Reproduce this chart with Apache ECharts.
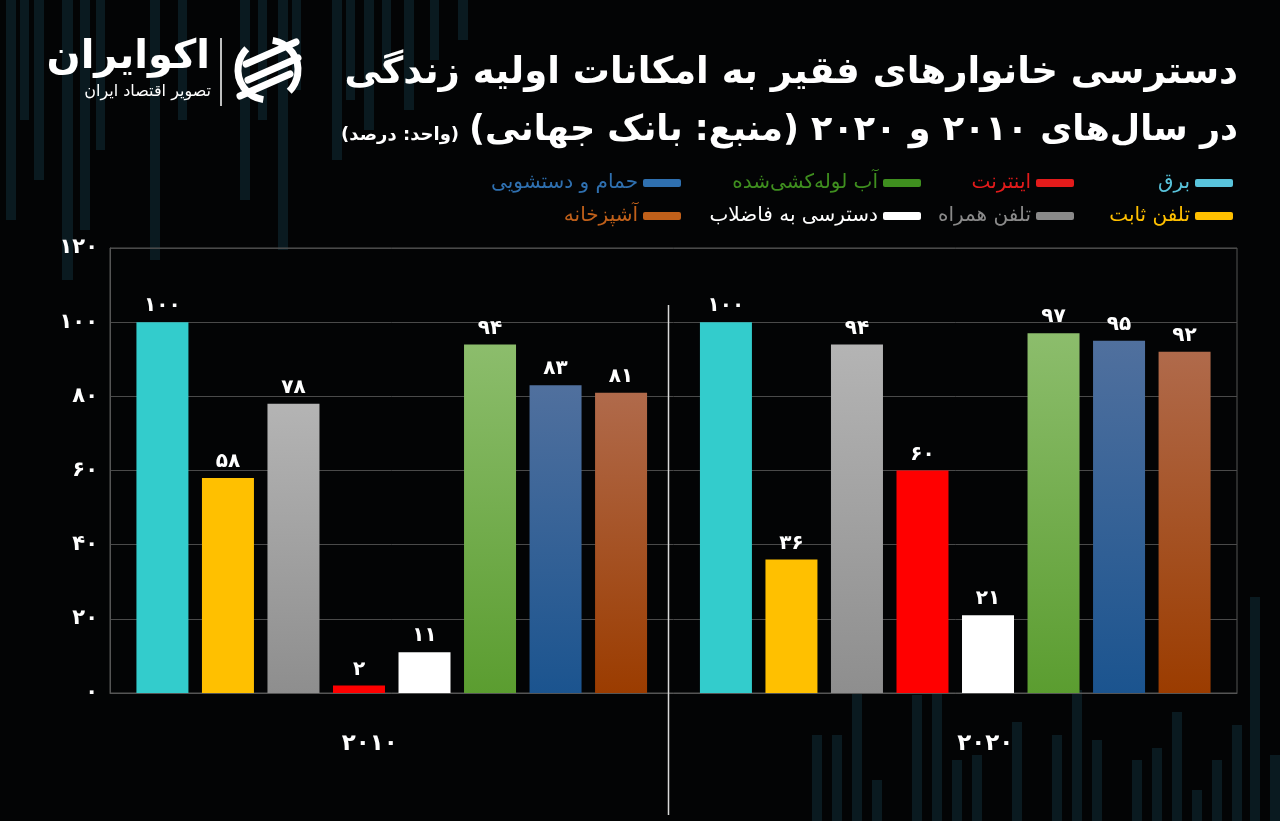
<!DOCTYPE html>
<html>
<head>
<meta charset="utf-8">
<script src="https://cdn.jsdelivr.net/npm/echarts@6/dist/echarts.min.js"></script>
<style>
  html, body { margin: 0; padding: 0; background: #030405; }
  #chart { width: 1280px; height: 821px; }
</style>
</head>
<body>
<div id="chart" dir="rtl"></div>
<script>
// data
const categories = ['2010', '2020'];
const seriesNames = ['برق', 'تلفن ثابت', 'تلفن همراه', 'اینترنت', 'دسترسی به فاضلاب', 'آب لوله‌کشی‌شده', 'حمام و دستشویی', 'آشپزخانه'];
const values2010 = [100, 58, 78, 2, 11, 94, 83, 81];
const values2020 = [100, 36, 94, 60, 21, 97, 95, 92];
const yTicks = [0, 20, 40, 60, 80, 100, 120];

// styles
const FONT = 'DejaVu Sans';
const grad = (top, bottom) => new echarts.graphic.LinearGradient(0, 0, 0, 1, [
  { offset: 0, color: top }, { offset: 1, color: bottom }
]);
const barColors = [
  '#33cccc', '#ffc000', grad('#b4b4b4', '#8e8e8e'), '#ff0000', '#ffffff',
  grad('#8cbd6c', '#5b9d30'), grad('#50709e', '#1b548f'), grad('#b06a4b', '#9b3c00')
];
const legendColors = ['#59c4dc', '#ffc000', '#8a8a8a', '#e31b1b', '#ffffff', '#3f8f1f', '#2f70b0', '#c0601a'];
// legend slot for each series: [right, top]
const legendSlots = [[47, 173], [47, 206], [206, 206], [206, 173], [359, 206], [359, 173], [599, 173], [599, 206]];

const toFa = (v) => String(v).replace(/\d/g, (d) => '۰۱۲۳۴۵۶۷۸۹'[d]);

const GRID_LEFT = 110, GRID_RIGHT = 43, GRID_TOP = 248, GRID_BOTTOM = 128;

const chart = echarts.init(document.getElementById('chart'));

// faint decorative background bars [x, y, w, h]
const decor = [
  [6, 0, 10, 220], [20, 0, 9, 120], [34, 0, 10, 180], [62, 0, 11, 280], [80, 0, 10, 230],
  [96, 0, 9, 150], [150, 0, 10, 260], [178, 0, 9, 120], [240, 0, 10, 200], [258, 0, 9, 120],
  [278, 0, 10, 250], [292, 0, 9, 90], [332, 0, 10, 160], [346, 0, 9, 100], [364, 0, 10, 130],
  [382, 0, 9, 70], [404, 0, 10, 110], [430, 0, 9, 60], [458, 0, 10, 40],
  [812, 735, 10, 86], [832, 735, 10, 86], [852, 690, 10, 131], [872, 780, 10, 41],
  [912, 695, 10, 126], [932, 690, 10, 131], [952, 760, 10, 61], [972, 755, 10, 66],
  [1012, 722, 10, 99], [1052, 735, 10, 86], [1072, 690, 10, 131], [1092, 740, 10, 81],
  [1132, 760, 10, 61], [1152, 748, 10, 73], [1172, 712, 10, 109], [1192, 790, 10, 31],
  [1212, 760, 10, 61], [1232, 725, 10, 96], [1250, 597, 10, 224], [1270, 755, 10, 66]
];

const option = {
  backgroundColor: '#030405',
  textStyle: { fontFamily: FONT },
  title: [
    {
      text: 'دسترسی خانوارهای فقیر به امکانات اولیه زندگی',
      right: 37,
      top: 50,
      textStyle: { color: '#ffffff', fontSize: 37, fontWeight: 'bold', fontFamily: FONT }
    },
    {
      text: '{u|(واحد: درصد)}{b|در سال‌های ۲۰۱۰ و ۲۰۲۰ (منبع: بانک جهانی)}',
      right: 37,
      top: 108,
      textStyle: {
        rich: {
          b: { color: '#ffffff', fontSize: 35, fontWeight: 'bold', fontFamily: FONT },
          u: { color: '#ffffff', fontSize: 18, fontFamily: FONT, padding: [10, 10, 0, 0] }
        }
      }
    }
  ],
  legend: seriesNames.map((name, i) => ({
    right: legendSlots[i][0],
    top: legendSlots[i][1],
    padding: 0,
    align: 'right',
    icon: 'roundRect',
    itemWidth: 38,
    itemHeight: 8,
    selectedMode: false,
    data: [{
      name: name,
      itemStyle: { color: legendColors[i] },
      textStyle: { color: legendColors[i], fontSize: 20, fontFamily: FONT }
    }]
  })),
  grid: {
    left: GRID_LEFT,
    right: GRID_RIGHT,
    top: GRID_TOP,
    bottom: GRID_BOTTOM,
    show: true,
    borderColor: '#555555',
    borderWidth: 1
  },
  xAxis: {
    type: 'category',
    data: categories,
    axisTick: { show: false },
    axisLine: { lineStyle: { color: '#555555' } },
    axisLabel: {
      margin: 40,
      formatter: (v, idx) => (idx === 0 ? '{a|' : '{b|') + toFa(v) + '}',
      rich: {
        a: { color: '#ffffff', fontSize: 23, fontWeight: 'bold', padding: [0, 44, 0, 0] },
        b: { color: '#ffffff', fontSize: 23, fontWeight: 'bold', padding: [0, 0, 0, 60] }
      }
    }
  },
  yAxis: {
    type: 'value',
    min: yTicks[0],
    max: yTicks[yTicks.length - 1],
    interval: 20,
    axisLine: { show: true, lineStyle: { color: '#555555' } },
    splitLine: { lineStyle: { color: '#4a4a4a', width: 1 } },
    axisLabel: {
      color: '#ffffff',
      fontSize: 21,
      fontWeight: 'bold',
      margin: 12,
      formatter: (v) => toFa(v)
    }
  },
  series: seriesNames.map((name, i) => ({
    name: name,
    type: 'bar',
    data: [values2010[i], values2020[i]],
    barWidth: 52,
    barGap: '26%',
    itemStyle: { color: barColors[i] },
    label: {
      show: true,
      position: 'top',
      distance: 6,
      color: '#ffffff',
      fontSize: 20,
      fontWeight: 'bold',
      formatter: (p) => toFa(p.value)
    }
  })),
  graphic: [
    ...decor.map(([x, y, w, h]) => ({
      type: 'rect',
      z: -10,
      silent: true,
      shape: { x, y, width: w, height: h },
      style: { fill: '#0a1a20' }
    })),
    // divider between the two years
    {
      type: 'line',
      z: 5,
      silent: true,
      shape: {
        x1: GRID_LEFT + (1280 - GRID_LEFT - GRID_RIGHT) / 2 - 5,
        y1: 305,
        x2: GRID_LEFT + (1280 - GRID_LEFT - GRID_RIGHT) / 2 - 5,
        y2: 815
      },
      style: { stroke: '#d9d9d9', lineWidth: 1.5 }
    },
    // logo
    {
      type: 'text',
      x: 210,
      y: 38,
      style: { text: 'اکوایران', fill: '#ffffff', font: 'bold 40px "DejaVu Sans"', textAlign: 'right' }
    },
    {
      type: 'text',
      x: 211,
      y: 84,
      style: { text: 'تصویر اقتصاد ایران', fill: '#ffffff', font: '16px "DejaVu Sans"', textAlign: 'right' }
    },
    {
      type: 'line',
      shape: { x1: 221, y1: 38, x2: 221, y2: 106 },
      style: { stroke: '#ffffff', lineWidth: 1.5 }
    },
    {
      type: 'group',
      x: 268,
      y: 70,
      children: [
        { type: 'arc', shape: { cx: 0, cy: 0, r: 30, startAngle: Math.PI * 0.55, endAngle: Math.PI * 1.25 }, style: { stroke: '#ffffff', lineWidth: 7, fill: null } },
        { type: 'arc', shape: { cx: 0, cy: 0, r: 30, startAngle: -Math.PI * 0.45, endAngle: Math.PI * 0.25 }, style: { stroke: '#ffffff', lineWidth: 7, fill: null } },
        { type: 'line', shape: { x1: -22, y1: -6, x2: 28, y2: -28 }, style: { stroke: '#ffffff', lineWidth: 7, lineCap: 'round' } },
        { type: 'line', shape: { x1: -20, y1: 10, x2: 30, y2: -12 }, style: { stroke: '#ffffff', lineWidth: 7, lineCap: 'round' } },
        { type: 'line', shape: { x1: -28, y1: 26, x2: 22, y2: 4 }, style: { stroke: '#ffffff', lineWidth: 7, lineCap: 'round' } }
      ]
    }
  ]
};

chart.setOption(option);
</script>
</body>
</html>
